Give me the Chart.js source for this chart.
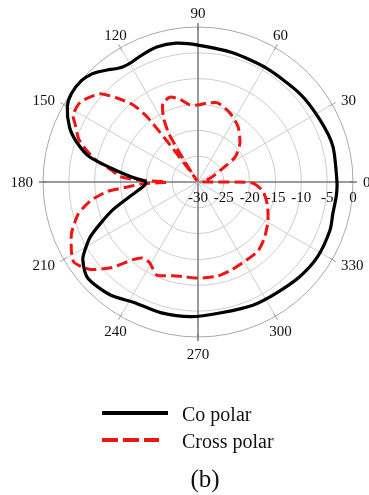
<!DOCTYPE html>
<html>
<head>
<meta charset="utf-8">
<script src="https://cdn.jsdelivr.net/npm/chart.js@4.4.1/dist/chart.umd.min.js"></script>
<style>
  html, body { margin: 0; padding: 0; background: #fff; }
  #wrap { width: 369px; height: 495px; }
</style>
</head>
<body>
<div id="wrap"><canvas id="polarChart" width="369" height="495"></canvas></div>
<script>
// angles in degrees (0 = right, counter clockwise), values in dB
const coAngles = [0, 15, 27, 41, 59, 75, 90, 99, 107, 115, 119, 123, 126, 129, 132, 135, 139, 145, 150, 157, 162, 167, 172, 176, 179, 181, 185, 192, 198, 203, 207, 211, 214, 221, 232, 242, 254, 267, 280, 294, 305, 317, 328, 340, 347, 354];
const coValues = [-3.1, -3.0, -3.5, -3.9, -4.3, -4.1, -3.5, -2.8, -2.7, -3.2, -3.5, -3.4, -2.9, -2.1, -1.3, -0.6, -0.1, -0.1, -0.8, -3.0, -5.4, -8.5, -14.0, -17.4, -19.7, -19.9, -19.3, -16.5, -12.7, -9.5, -6.6, -4.5, -3.1, -1.7, -2.3, -3.6, -3.7, -3.9, -4.3, -3.9, -3.7, -3.1, -2.7, -2.8, -3.2, -3.1];

const crossAngles = [3, 12, 20, 29, 34, 43, 54, 65, 76, 83, 90, 96, 102, 108, 114, 118, 121, 122, 123, 124, 125, 126, 127, 128, 130, 134, 138, 143, 147, 152, 155, 160, 164, 168, 172, 176, 178, 180, 182, 184, 186, 190, 195, 202, 209, 213, 219, 225, 230, 234, 239, 246, 255, 263, 268, 274, 282, 291, 301, 311, 320, 331, 342, 352, 359];
const crossValues = [-29.2, -28.3, -27.1, -24.4, -21.3, -18.9, -16.8, -15.3, -14.2, -14.6, -15.1, -15.0, -13.7, -12.7, -13.3, -15.7, -18.9, -22.3, -25.4, -27.9, -29.5, -27.1, -21.1, -14.1, -10.6, -7.4, -4.5, -3.1, -2.4, -2.6, -3.8, -5.4, -7.5, -9.9, -13.0, -14.9, -18.0, -24.0, -19.0, -16.3, -12.3, -8.8, -6.0, -3.6, -2.0, -1.4, -3.1, -6.6, -10.4, -11.8, -11.8, -10.3, -11.2, -11.5, -11.4, -11.4, -11.4, -11.8, -12.2, -12.3, -13.2, -14.5, -15.9, -17.3, -19.5];

const angleMarks = [0, 30, 60, 90, 120, 150, 180, 210, 240, 270, 300, 330];
const radialTicks = [-30, -25, -20, -15, -10, -5, 0];

// the radar scale runs clockwise, so slot i holds angle (360 - i) % 360
const labels = Array.from({length: 360}, (_, i) => (360 - i) % 360);

function toSlots(angles, values) {
  var out = new Array(360).fill(null);
  angles.forEach((a, k) => { out[(360 - a) % 360] = values[k]; });
  return out;
}

const serif = "'Liberation Serif', 'Times New Roman', serif";

const polarDecor = {
  id: 'polarDecor',
  beforeDatasetsDraw(chart) {
    var r = chart.scales.r;
    var ctx = chart.ctx;
    var R = r.drawingArea;
    ctx.save();

    // small marks across the outer ring
    angleMarks.forEach(a => {
      var idx = (360 - a) % 360;
      var p0 = r.getPointPosition(idx, R - 3);
      var p1 = r.getPointPosition(idx, R + 4);
      ctx.strokeStyle = (a % 90 === 0) ? '#7a7a7a' : '#9a9a9a';
      ctx.lineWidth = (a % 90 === 0) ? 1.5 : 1;
      ctx.beginPath();
      ctx.moveTo(p0.x, p0.y);
      ctx.lineTo(p1.x, p1.y);
      ctx.stroke();
    });

    // dB labels under the 0 degree axis
    ctx.font = '15px ' + serif;
    ctx.fillStyle = '#111';
    ctx.textAlign = 'center';
    ctx.textBaseline = 'alphabetic';
    radialTicks.forEach(v => {
      var p = r.getPointPosition(0, r.getDistanceFromCenterForValue(v));
      ctx.fillText(String(v), p.x, p.y + 20);
    });

    // angle labels
    angleMarks.forEach(a => {
      var idx = (360 - a) % 360;
      var p = r.getPointPosition(idx, R + 10);
      var s = Math.sin(a * Math.PI / 180);
      var c = Math.cos(a * Math.PI / 180);
      var y = p.y + 5;
      if (Math.abs(s) > 0.8) {
        ctx.textAlign = 'center';
        y = s > 0 ? p.y + 1 : p.y + 11.5;
      } else {
        ctx.textAlign = c > 0 ? 'left' : 'right';
      }
      ctx.fillText(String(a), p.x, y);
    });
    ctx.restore();
  },
  afterDraw(chart) {
    var ctx = chart.ctx;
    var sets = chart.data.datasets;
    ctx.save();
    var rows = [413, 440];
    sets.forEach((ds, k) => {
      ctx.strokeStyle = ds.borderColor;
      ctx.lineWidth = 4;
      ctx.setLineDash(ds.borderDash ? [16, 5] : []);
      ctx.beginPath();
      ctx.moveTo(102, rows[k]);
      ctx.lineTo(ds.borderDash ? 159 : 168, rows[k]);
      ctx.stroke();
      ctx.setLineDash([]);
      ctx.font = '20px ' + serif;
      ctx.fillStyle = '#111';
      ctx.textAlign = 'left';
      ctx.textBaseline = 'alphabetic';
      ctx.fillText(ds.label, 182, rows[k] + 8);
    });
    ctx.font = '25px ' + serif;
    ctx.textAlign = 'center';
    ctx.fillText('(b)', 205, 487);
    ctx.restore();
  }
};

var ctxPolar = document.getElementById('polarChart').getContext('2d');

var polarChart = new Chart(ctxPolar, {
  type: 'radar',
  data: {
    labels: labels,
    datasets: [{
      label: 'Co polar',
      data: toSlots(coAngles, coValues),
      borderColor: '#000000',
      borderWidth: 3.2,
      fill: false,
      spanGaps: true,
      tension: 0.25,
      pointRadius: 0
    }, {
      label: 'Cross polar',
      data: toSlots(crossAngles, crossValues),
      borderColor: '#f01414',
      borderWidth: 3,
      borderDash: [11, 5],
      fill: false,
      spanGaps: true,
      tension: 0.2,
      pointRadius: 0
    }]
  },
  options: {
    responsive: false,
    animation: false,
    devicePixelRatio: 1,
    layout: { padding: { left: 43, right: 16, top: 27, bottom: 158 } },
    plugins: {
      legend: { display: false },
      tooltip: { enabled: false }
    },
    scales: {
      r: {
        min: -30,
        max: 0,
        startAngle: 90,
        ticks: { display: false, stepSize: 5 },
        pointLabels: { display: false },
        grid: {
          circular: true,
          color: c => (c.tick && c.tick.value === 0) ? '#a8a8a8' : '#cdcdcd',
          lineWidth: 1
        },
        angleLines: {
          color: c => (c.index % 90 === 0) ? '#7a7a7a' : '#cdcdcd',
          lineWidth: c => (c.index % 90 === 0) ? 1.5 : (c.index % 30 === 0 ? 1 : 0)
        }
      }
    }
  },
  plugins: [polarDecor]
});
</script>
</body>
</html>
